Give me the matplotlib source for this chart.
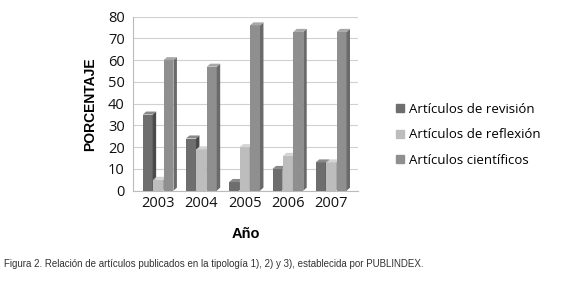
import matplotlib
matplotlib.use("Agg")
import matplotlib.pyplot as plt
from matplotlib.patches import Polygon
import numpy as np

years = ["2003", "2004", "2005", "2006", "2007"]
series_names = ["Artículos de revisión", "Artículos de reflexión", "Artículos científicos"]
revision = [35, 24, 4, 10, 13]
reflexion = [5, 19, 20, 16, 13]
cientificos = [60, 57, 76, 73, 73]
yticks = [0, 10, 20, 30, 40, 50, 60, 70, 80]

colors = ["#6e6e6e", "#bdbdbd", "#8f8f8f"]
side_colors = ["#4a4a4a", "#9a9a9a", "#6a6a6a"]
top_colors = ["#8a8a8a", "#d4d4d4", "#a8a8a8"]

plt.rcParams['font.family'] = ['Open Sans', 'DejaVu Sans']

fig = plt.figure(figsize=(5.8, 2.82), dpi=100)
ax = fig.add_axes([133/580, 1 - 190.7/282, (358-133)/580, (190.7-16.7)/282])

x = np.arange(len(years))
w = 0.23
dx, dy = 0.08, 1.4
for i, vals in enumerate([revision, reflexion, cientificos]):
    pos = x + (i - 1) * (w + 0.01)
    ax.bar(pos, vals, width=w, color=colors[i], edgecolor="none", zorder=3,
           label=series_names[i])
    for p, v in zip(pos, vals):
        r = p + w / 2
        l = p - w / 2
        ax.add_patch(Polygon([[r, 0], [r + dx, dy], [r + dx, v + dy], [r, v]],
                             closed=True, color=side_colors[i], zorder=3, lw=0))
        ax.add_patch(Polygon([[l, v], [l + dx, v + dy], [r + dx, v + dy], [r, v]],
                             closed=True, color=top_colors[i], zorder=3, lw=0))

ax.set_xlim(-0.58, 4.62)
ax.set_ylim(0, 80)
ax.set_yticks(yticks)
ax.set_xticks(x)
ax.set_xticklabels(years)
ax.tick_params(axis='both', length=0, labelsize=10.5, colors="#111111")
ax.tick_params(axis='x', pad=4)
ax.tick_params(axis='y', pad=6)
ax.grid(axis='y', color="#d0d0d0", lw=0.8, zorder=0)
for s in ["top", "right"]:
    ax.spines[s].set_visible(False)
ax.spines["left"].set_color("#bbbbbb")
ax.spines["bottom"].set_color("#bbbbbb")

ax.set_ylabel("PORCENTAJE", fontsize=10, fontweight="bold", labelpad=8,
              family=['Liberation Sans', 'DejaVu Sans'])
ax.set_xlabel("Año", fontsize=10.5, fontweight="bold", labelpad=11,
              family=['Liberation Sans', 'DejaVu Sans'])

handles = [plt.Rectangle((0, 0), 1, 1, color=c) for c in colors]
fig.legend(handles, series_names, loc="upper left", bbox_to_anchor=(384/580, 1 - 91/282),
           frameon=False, fontsize=9.5, handlelength=0.6, handleheight=0.6,
           handletextpad=0.4, labelspacing=0.95)

fig.text(4/580, 1 - 264/282,
         "Figura 2. Relación de artículos publicados en la tipología 1), 2) y 3), establecida por PUBLINDEX.",
         fontsize=7, va="center", ha="left", color="#333333",
         family=['Liberation Sans Narrow', 'Liberation Sans', 'DejaVu Sans'])

fig.savefig("out.png", dpi=100)
